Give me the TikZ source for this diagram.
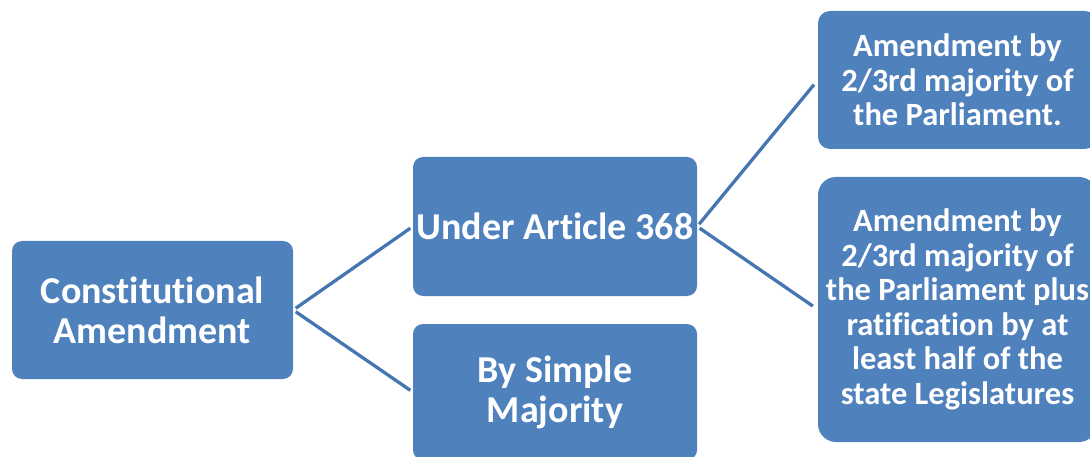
\documentclass[tikz,border=0pt]{standalone}
\usepackage{fontspec}
\setmainfont[Ligatures=NoCommon]{Carlito}
\definecolor{boxblue}{HTML}{4F81BD}
\definecolor{lineblue}{HTML}{4676B2}
\begin{document}
\begin{tikzpicture}[x=1pt,y=-1pt,
  box/.style={draw=none, fill=boxblue, text=white, align=center, inner sep=0pt, font=\bfseries},
  bigtext/.style={font=\bfseries\fontsize{38}{40}\selectfont},
  smalltext/.style={font=\bfseries\fontsize{32.5}{34.5}\selectfont},
  conn/.style={draw=lineblue, line width=3.3pt}]
\useasboundingbox (0,0) rectangle (1090,457);
\clip (0,0) rectangle (1090,457);
\node[box, bigtext, rounded corners=10pt, minimum width=281pt, minimum height=138pt] (ca) at (152.5,310) {Constitutional\\Amendment};
\node[box, bigtext, rounded corners=10pt, minimum width=284pt, minimum height=139pt] (art) at (555,226.5) {Under Article 368};
\node[box, bigtext, rounded corners=10pt, minimum width=284pt, minimum height=136pt] (sm) at (555,392) {By Simple\\Majority};
\node[box, smalltext, rounded corners=12pt, minimum width=279pt, minimum height=138pt] (p1) at (957.5,80) {Amendment by\\2/3rd majority of\\the Parliament.};
\node[box, smalltext, rounded corners=18pt, minimum width=279pt, minimum height=265pt] (p2) at (957.5,309.5) {Amendment by\\2/3rd majority of\\the Parliament plus\\ratification by at\\least half of the\\state Legislatures};
\draw[conn, shorten <=3pt, shorten >=3pt] (ca.east) -- (art.west);
\draw[conn, shorten <=3pt, shorten >=3pt] (ca.east) -- (sm.west);
\draw[conn, shorten <=3pt, shorten >=6pt] (art.east) -- (p1.west);
\draw[conn, shorten <=3pt, shorten >=6pt] (art.east) -- (p2.west);
\end{tikzpicture}
\end{document}
